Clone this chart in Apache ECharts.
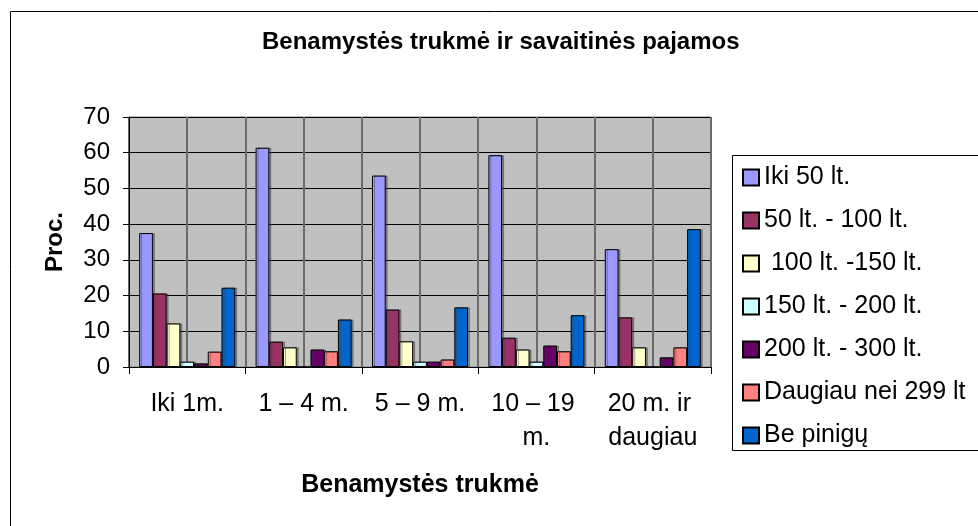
<!DOCTYPE html>
<html>
<head>
<meta charset="utf-8">
<script src="https://cdn.jsdelivr.net/npm/echarts@6/dist/echarts.min.js"></script>
<style>html,body{margin:0;padding:0;background:#fff;}#c{width:978px;height:526px;}</style>
</head>
<body>
<div id="c"></div>
<script>
const categories = ["Iki 1m.", "1 – 4 m.", "5 – 9 m.", "10 – 19 m.", "20 m. ir daugiau"];
const seriesNames = ["Iki 50 lt.", "50 lt. - 100 lt.", " 100 lt. -150 lt.", "150 lt. - 200 lt.", "200 lt. - 300 lt.", "Daugiau nei 299 lt", "Be pinigų"];
const iki50 = [37.5, 61.4, 53.6, 59.3, 33.0];
const lt50_100 = [20.6, 7.1, 16.1, 8.2, 13.9];
const lt100_150 = [12.2, 5.5, 7.2, 4.9, 5.5];
const lt150_200 = [1.5, 0, 1.5, 1.5, 0];
const lt200_300 = [1.0, 4.9, 1.5, 6.0, 2.7];
const daugiau299 = [4.3, 4.4, 2.1, 4.4, 5.5];
const bePinigu = [22.2, 13.3, 16.7, 14.5, 38.6];
const yTicks = [0, 10, 20, 30, 40, 50, 60, 70];

const seriesData = [iki50, lt50_100, lt100_150, lt150_200, lt200_300, daugiau299, bePinigu];
const colors = ["#9999FF", "#993366", "#FFFFCC", "#CCFFFF", "#660066", "#FF8080", "#0066CC"];
const FONT = "Liberation Sans";

const chart = echarts.init(document.getElementById('c'), null, {renderer: 'canvas'});
chart.setOption({
  backgroundColor: '#ffffff',
  animation: false,
  textStyle: {fontFamily: FONT},
  title: {
    text: 'Benamystės trukmė ir savaitinės pajamos',
    left: 262, top: 30, padding: 0,
    textStyle: {fontFamily: FONT, fontWeight: 'bold', fontSize: 24, color: '#000'}
  },
  graphic: [
    {type: 'rect', z: -10, shape: {x: 10.5, y: 11.5, width: 1000, height: 600}, style: {fill: '#fff', stroke: '#000', lineWidth: 1}},
    {type: 'rect', z: -5, shape: {x: 732.5, y: 155.5, width: 400, height: 295}, style: {fill: '#fff', stroke: '#000', lineWidth: 1}}
  ],
  legend: {
    orient: 'vertical',
    left: 742, top: 165, padding: 0,
    itemWidth: 16, itemHeight: 16, itemGap: 18,
    icon: 'rect',
    textStyle: {fontFamily: FONT, fontSize: 25, color: '#000', lineHeight: 24},
    data: seriesNames
  },
  grid: {
    left: 129, top: 117, right: 267, bottom: 159,
    show: true, backgroundColor: '#C0C0C0', borderColor: '#808080', borderWidth: 1,
    containLabel: false
  },
  xAxis: [
    {
      type: 'category', data: categories,
      axisLine: {show: true, lineStyle: {color: '#000', width: 1}},
      axisTick: {show: true, inside: false, length: 7, lineStyle: {color: '#000'}},
      axisLabel: {
        color: '#000', fontFamily: FONT, fontSize: 25, margin: 20, lineHeight: 34,
        width: 110, overflow: 'break', interval: 0, align: 'center'
      },
      splitLine: {show: false},
      name: 'Benamystės trukmė', nameLocation: 'middle', nameGap: 106,
      nameTextStyle: {fontFamily: FONT, fontWeight: 'bold', fontSize: 25, color: '#000'}
    },
    {
      type: 'value', min: 0, max: 10, interval: 1, position: 'top',
      axisLine: {show: false}, axisTick: {show: false}, axisLabel: {show: false},
      splitLine: {show: true, lineStyle: {color: '#6b6b6b', width: 2}}
    }
  ],
  yAxis: {
    type: 'value', min: 0, max: 70, interval: 10,
    axisLine: {show: true, lineStyle: {color: '#000', width: 1}},
    axisTick: {show: true, length: 6, lineStyle: {color: '#000'}},
    axisLabel: {color: '#000', fontFamily: FONT, fontSize: 24, margin: 19,
      formatter: v => yTicks.includes(v) ? String(v) : ''},
    splitLine: {show: true, lineStyle: {color: '#000', width: 1}},
    name: 'Proc.', nameLocation: 'middle', nameGap: 62, nameRotate: 90,
    nameTextStyle: {fontFamily: FONT, fontWeight: 'bold', fontSize: 24, color: '#000'}
  },
  series: seriesNames.map((name, i) => ({
    name: name,
    type: 'bar',
    xAxisIndex: 0,
    data: seriesData[i],
    barGap: '0%',
    barCategoryGap: '17.5%',
    itemStyle: {color: colors[i], borderColor: '#000', borderWidth: 1,
      shadowColor: 'rgba(60,60,60,0.45)', shadowOffsetX: 2, shadowOffsetY: 0, shadowBlur: 0}
  }))
});
</script>
</body>
</html>
